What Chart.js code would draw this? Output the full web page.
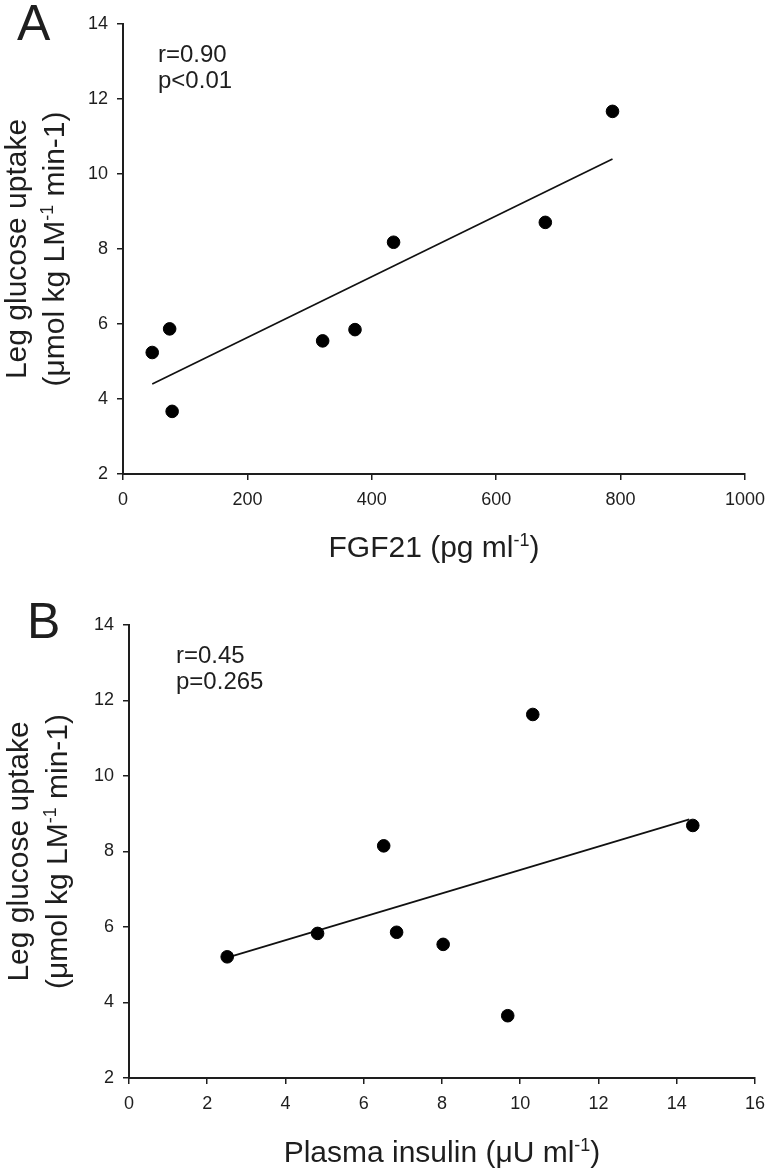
<!DOCTYPE html>
<html>
<head>
<meta charset="utf-8">
<script src="https://cdn.jsdelivr.net/npm/chart.js@4"></script>
<style>
  html, body { margin: 0; padding: 0; background: #fff; }
  #wrapA { position: absolute; left: 0; top: 0; width: 774px; height: 580px; }
  #wrapB { position: absolute; left: 0; top: 580px; width: 774px; height: 591px; }
</style>
</head>
<body>
<div id="wrapA"><canvas id="chartA"></canvas></div>
<div id="wrapB"><canvas id="chartB"></canvas></div>
<script>
// Data
const fgf21 = [47, 75, 79, 321, 373, 435, 679, 787];
const uptakeA = [5.24, 5.87, 3.67, 5.55, 5.85, 8.18, 8.71, 11.67];
const fitAx = [47, 787];
const fitAy = [4.40, 10.40];

const insulin = [2.51, 4.82, 6.51, 6.84, 8.03, 9.68, 10.32, 14.41];
const uptakeB = [5.21, 5.83, 8.15, 5.86, 5.54, 3.65, 11.63, 8.69];
const fitBx = [2.51, 14.32];
const fitBy = [5.19, 8.85];

// Axis ranges / tick steps
const yTicks = [2, 4, 6, 8, 10, 12, 14];
const xTicksA = [0, 200, 400, 600, 800, 1000];
const xTicksB = [0, 2, 4, 6, 8, 10, 12, 14, 16];

const FONT = '"Liberation Sans", Arial, sans-serif';
const INK = '#1e1e1e';

function toPoints(xs, ys) {
  return xs.map((x, i) => ({ x: x, y: ys[i] }));
}

// draw text made of normal and superscript parts, centred on x
function drawRich(ctx, parts, x, y, size) {
  let total = 0;
  parts.forEach(p => {
    ctx.font = (p[1] ? size * 0.6 : size) + 'px ' + FONT;
    total += ctx.measureText(p[0]).width;
  });
  let cx = x - total / 2;
  parts.forEach(p => {
    ctx.font = (p[1] ? size * 0.6 : size) + 'px ' + FONT;
    ctx.fillText(p[0], cx, p[1] ? y - size * 0.38 : y);
    cx += ctx.measureText(p[0]).width;
  });
}

// panel letter, stats text and axis titles
const labelsPlugin = {
  id: 'labels',
  afterDraw(chart) {
    const o = chart.options.plugins.labels;
    const ctx = chart.ctx;
    const area = chart.chartArea;
    ctx.save();
    ctx.fillStyle = INK;
    ctx.textAlign = 'left';
    ctx.textBaseline = 'alphabetic';

    ctx.font = '50px ' + FONT;
    ctx.fillText(o.letter, o.letterX, o.letterY);

    ctx.font = '24px ' + FONT;
    ctx.fillText(o.stats[0], area.left + o.statsDx, area.top + 38);
    ctx.fillText(o.stats[1], area.left + o.statsDx, area.top + 64);

    // x title
    drawRich(ctx, o.xTitle, (area.left + area.right) / 2, o.xTitleY, 30);

    // y title, two rotated lines
    const cy = (area.top + area.bottom) / 2;
    ctx.save();
    ctx.translate(o.yLine1X, cy);
    ctx.rotate(-Math.PI / 2);
    drawRich(ctx, [['Leg glucose uptake', false]], 0, 0, 30);
    ctx.restore();
    ctx.save();
    ctx.translate(o.yLine2X, cy);
    ctx.rotate(-Math.PI / 2);
    drawRich(ctx, [['(\u03bcmol kg LM', false], ['-1', true], [' min-1)', false]], 0, 0, 30);
    ctx.restore();

    ctx.restore();
  }
};

function makeChart(id, xs, ys, fx, fy, xTicks, box, labels) {
  return new Chart(document.getElementById(id), {
    type: 'scatter',
    data: {
      datasets: [
        {
          data: toPoints(xs, ys),
          backgroundColor: '#000',
          borderColor: '#000',
          pointRadius: 6.3,
          pointHoverRadius: 6.3,
          clip: false
        },
        {
          type: 'line',
          data: toPoints(fx, fy),
          borderColor: '#111',
          borderWidth: 1.7,
          pointRadius: 0,
          fill: false
        }
      ]
    },
    options: {
      responsive: true,
      maintainAspectRatio: false,
      animation: false,
      layout: { padding: { left: 0, top: box.top, right: box.right, bottom: 0 } },
      plugins: {
        legend: { display: false },
        tooltip: { enabled: false },
        labels: labels
      },
      scales: {
        x: {
          type: 'linear',
          min: xTicks[0],
          max: xTicks[xTicks.length - 1],
          afterFit: (scale) => { scale.height = box.xHeight; },
          ticks: {
            stepSize: xTicks[1] - xTicks[0],
            callback: (v) => String(v),
            color: INK,
            padding: 9,
            font: { family: FONT, size: 18 },
            maxRotation: 0
          },
          grid: { drawOnChartArea: false, drawTicks: true, tickLength: 6, color: INK, lineWidth: 1.5 },
          border: { display: true, color: INK, width: 2 }
        },
        y: {
          type: 'linear',
          min: yTicks[0],
          max: yTicks[yTicks.length - 1],
          afterFit: (scale) => { scale.width = box.yWidth; },
          ticks: {
            stepSize: yTicks[1] - yTicks[0],
            callback: (v) => String(v),
            color: INK,
            padding: 9,
            font: { family: FONT, size: 18 }
          },
          grid: { drawOnChartArea: false, drawTicks: true, tickLength: 6, color: INK, lineWidth: 1.5 },
          border: { display: true, color: INK, width: 2 }
        }
      }
    },
    plugins: [labelsPlugin]
  });
}

makeChart('chartA', fgf21, uptakeA, fitAx, fitAy, xTicksA,
  { top: 24, right: 23, xHeight: 106, yWidth: 123 },
  {
    letter: 'A', letterX: 17, letterY: 40,
    stats: ['r=0.90', 'p<0.01'], statsDx: 35,
    xTitle: [['FGF21 (pg ml', false], ['-1', true], [')', false]], xTitleY: 557,
    yLine1X: 26, yLine2X: 64
  });

makeChart('chartB', insulin, uptakeB, fitBx, fitBy, xTicksB,
  { top: 45, right: 17, xHeight: 93, yWidth: 129 },
  {
    letter: 'B', letterX: 27, letterY: 58,
    stats: ['r=0.45', 'p=0.265'], statsDx: 47,
    xTitle: [['Plasma insulin (\u03bcU ml', false], ['-1', true], [')', false]], xTitleY: 582,
    yLine1X: 28, yLine2X: 67
  });
</script>
</body>
</html>
